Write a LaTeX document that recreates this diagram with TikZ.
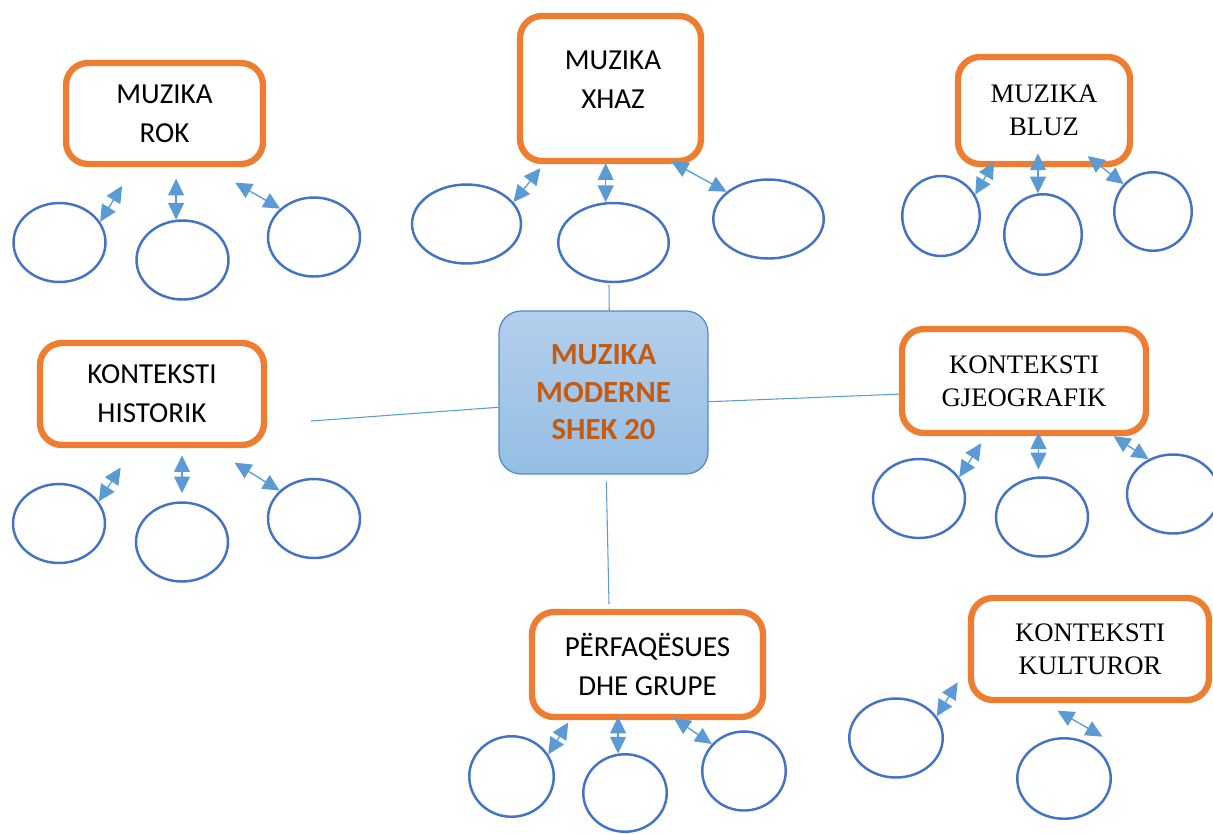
\documentclass[tikz,border=0pt]{standalone}
\usepackage{fontspec}
\usetikzlibrary{shapes.geometric,arrows.meta}
\newfontfamily\sansfam{Carlito}
\newfontfamily\seriffam{Liberation Serif}
\definecolor{boxorange}{HTML}{ED7D31}
\definecolor{ovalblue}{HTML}{4472C4}
\definecolor{arrowblue}{HTML}{5B9BD5}
\definecolor{titlebrown}{HTML}{C55A11}
\newcommand{\sansbox}{\sansfam\fontsize{16.5}{22.3}\selectfont}
\newcommand{\serifbox}{\seriffam\fontsize{15.2}{18.7}\selectfont}
\begin{document}
\begin{tikzpicture}[x=0.02cm,y=-0.02cm,
    catbox/.style={draw=boxorange,line width=3.6pt,rounded corners=0.44cm,fill=white,inner sep=0pt,align=center},
    blob/.style={ellipse,draw=ovalblue,line width=1.4pt,inner sep=0pt,minimum width=1.84cm,minimum height=1.58cm},
    twoway/.style={{Triangle[length=9.5pt,width=9pt]}-{Triangle[length=9.5pt,width=9pt]},draw=arrowblue,line width=0.75pt},
    link/.style={draw=arrowblue,line width=0.6pt}]
    \useasboundingbox (0,0) rectangle (1213,833);
    % centre
    \node[draw=arrowblue!90!black,line width=0.7pt,rounded corners=0.44cm,top color=blue!5!arrowblue!45,bottom color=arrowblue!65,
        minimum width=4.18cm,minimum height=3.26cm,align=center,text=titlebrown,
        font=\sansfam\bfseries\fontsize{17.5}{21.3}\selectfont] (cent) at (603.5,392.5) {MUZIKA\\MODERNE\\SHEK 20};
    \coordinate (topend) at (609,285);
    \coordinate (leftend) at (311,421);
    \coordinate (botend) at (609,604);
    % categories
    \node[catbox,font=\sansbox,minimum width=3.94cm,minimum height=2.02cm] (rok) at (164.5,113.5) {MUZIKA\\ROK};
    \node[catbox,minimum width=3.62cm,minimum height=2.9cm] (xhaz) at (610.5,88.5) {};
    \node[align=center,font=\sansbox] (xhaztxt) at (613,80) {MUZIKA\\XHAZ};
    \node[catbox,font=\serifbox,minimum width=3.44cm,minimum height=2.14cm] (bluz) at (1044,110.5) {MUZIKA\\BLUZ};
    \node[catbox,font=\sansbox,minimum width=4.48cm,minimum height=2.04cm] (hist) at (152,394) {KONTEKSTI\\HISTORIK};
    \node[catbox,font=\serifbox,minimum width=4.88cm,minimum height=2.08cm] (gjeo) at (1024,381) {KONTEKSTI\\GJEOGRAFIK};
    \node[catbox,font=\sansbox,minimum width=4.62cm,minimum height=2.1cm] (per) at (647.5,664.5) {PËRFAQËSUES\\DHE GRUPE};
    \node[catbox,font=\serifbox,minimum width=4.76cm,minimum height=2.04cm] (kult) at (1090,649) {KONTEKSTI\\KULTUROR};
    % links to the centre
    \draw[link] (cent.86) -- (topend);
    \draw[link] (leftend) -- (cent.188);
    \draw[link] (cent.-5) -- (gjeo.186.3);
    \draw[link] ([shift={(0,7)}]cent.-88) -- (botend);
    % empty ovals
    \node[blob] (re1) at (59.5,242.5) {};
    \node[blob] (re2) at (182.5,260) {};
    \node[blob] (re3) at (314,237) {};
    \node[blob,minimum width=2.18cm] (xe1) at (466.5,224) {};
    \node[blob,minimum width=2.21cm] (xe2) at (613.5,242.5) {};
    \node[blob,minimum width=2.21cm] (xe3) at (768.5,219) {};
    \node[blob,minimum width=1.55cm,minimum height=1.6cm] (be1) at (941,216) {};
    \node[blob,minimum width=1.55cm,minimum height=1.61cm] (be2) at (1043,234.5) {};
    \node[blob,minimum width=1.55cm,minimum height=1.57cm] (be3) at (1153,211.5) {};
    \node[blob] (he1) at (59,523.5) {};
    \node[blob] (he2) at (182,542) {};
    \node[blob] (he3) at (314,518.5) {};
    \node[blob] (ge1) at (919,498.5) {};
    \node[blob] (ge2) at (1042,517) {};
    \node[blob] (ge3) at (1173,494) {};
    \node[blob,minimum width=1.69cm,minimum height=1.61cm] (pe1) at (511.5,776.5) {};
    \node[blob,minimum width=1.67cm,minimum height=1.55cm] (pe2) at (625,793) {};
    \node[blob,minimum width=1.67cm] (pe3) at (744,771) {};
    \node[blob,minimum width=1.87cm] (ke1) at (896,738) {};
    \node[blob,minimum width=1.87cm,minimum height=1.61cm] (ke2) at (1064,778.5) {};
    % double arrows
    \draw[twoway] (re1.27) -- ++(22,-36);
    \draw[twoway] (re2.99) -- ++(0,-41);
    \draw[twoway] (re3.140) -- ++(-45,-26);
    \draw[twoway] (xe1.25) -- ++(27,-34);
    \draw[twoway] (xe2.101) -- ++(0,-39);
    \draw[twoway] (xe3.147) -- ++(-55,-30);
    \draw[twoway] (be1.32) -- ++(19,-33);
    \draw[twoway] (be2.97) -- ++(0,-40);
    \draw[twoway] (be3.137) -- ++(-36,-28);
    \draw[twoway] (he1.29) -- ++(22,-34);
    \draw[twoway] ([yshift=0.16cm]he2.north) -- ++(0,-38);
    \draw[twoway] (he3.141) -- ++(-45,-28);
    \draw[twoway] (ge1.28) -- ++(22,-34);
    \draw[twoway] ([yshift=0.14cm]ge2.95) -- ++(0,-37);
    \draw[twoway] (ge3.125) -- ++(-35,-23);
    \draw[twoway] (pe1.31) -- ++(20,-32);
    \draw[twoway] (pe2.100) -- ++(0,-37);
    \draw[twoway] (pe3.140) -- ++(-38,-26);
    \draw[twoway] (ke1.28) -- ++(21,-34);
    \draw[twoway] ([shift={(4,-13)}]ke2.40) -- ++(-45,-26);
\end{tikzpicture}
\end{document}
